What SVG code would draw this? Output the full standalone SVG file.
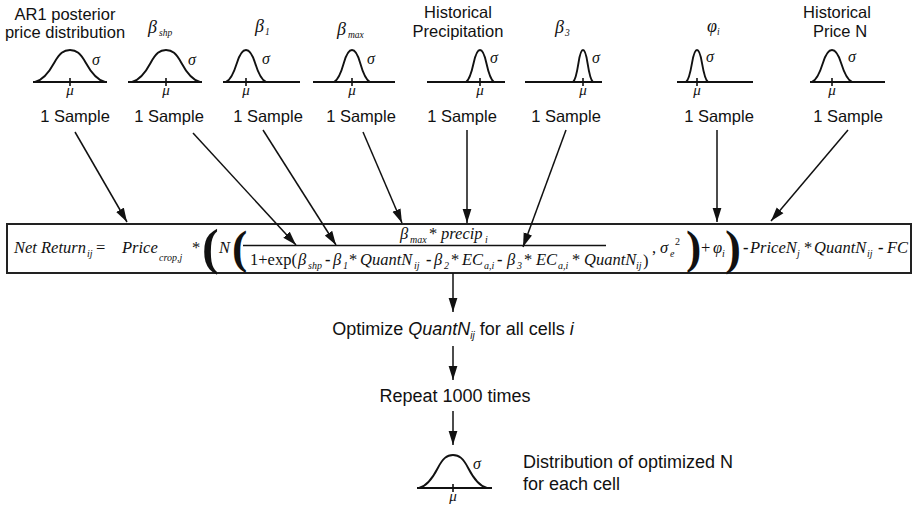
<svg xmlns="http://www.w3.org/2000/svg" xmlns:xlink="http://www.w3.org/1999/xlink" width="914" height="506" viewBox="0 0 914 506">
<style>
.lbl{font-family:"Liberation Sans",Arial,sans-serif;font-size:16.5px;fill:#111}
.gk{font-family:"Liberation Serif","Times New Roman",serif;font-style:italic;fill:#111}
.eq{font-family:"Liberation Serif","Times New Roman",serif;font-size:16.5px;font-style:italic;fill:#111}
.up{font-style:normal}
.sb{font-size:10px}
.bp{font-style:normal;font-weight:bold}
.curve{fill:none;stroke:#111;stroke-width:1.9}
.axis{stroke:#111;stroke-width:1.9}
.tick{stroke:#111;stroke-width:1.6}
.arrow{stroke:#111;stroke-width:1.5;fill:none;marker-end:url(#ah)}
.box{fill:#fff;stroke:#222;stroke-width:2}
</style>
<defs>
<marker id="ah" markerWidth="15" markerHeight="10" refX="14" refY="5" orient="auto" markerUnits="userSpaceOnUse">
<path d="M0,0.6 L14,5 L0,9.4 z" fill="#111"/>
</marker>
<path id="bell" class="curve" vector-effect="non-scaling-stroke" d="M-1,0 C-0.8,-0.05 -0.6,-0.3 -0.45,-0.6 C-0.3,-0.9 -0.18,-1 0,-1 C0.18,-1 0.3,-0.9 0.45,-0.6 C0.6,-0.3 0.8,-0.05 1,0"/>
</defs>
<rect width="914" height="506" fill="#fff"/>

<g id="node-ar1">
<text class="lbl" x="65" y="20" text-anchor="middle">AR1 posterior</text>
<text class="lbl" x="65" y="38" text-anchor="middle">price distribution</text>
<line class="axis" x1="33" y1="82" x2="107" y2="82"/>
<use xlink:href="#bell" transform="translate(70,82) scale(35,32)"/>
<line class="tick" x1="70" y1="78" x2="70" y2="86"/>
<text class="gk" x="70" y="95" font-size="15" text-anchor="middle">μ</text>
<text class="gk" x="92" y="65" font-size="16">σ</text>
<text class="lbl" x="75" y="122" text-anchor="middle">1 Sample</text>
</g>

<g id="node-bshp">
<text class="gk" x="148" y="33" font-size="18">β</text><text class="gk" x="159" y="36" font-size="9.5">shp</text>
<line class="axis" x1="128" y1="82" x2="202" y2="82"/>
<use xlink:href="#bell" transform="translate(166,82) scale(34,32)"/>
<line class="tick" x1="166" y1="78" x2="166" y2="86"/>
<text class="gk" x="166" y="95" font-size="15" text-anchor="middle">μ</text>
<text class="gk" x="188" y="65" font-size="16">σ</text>
<text class="lbl" x="169" y="122" text-anchor="middle">1 Sample</text>
</g>

<g id="node-b1">
<text class="gk" x="255" y="32" font-size="18">β</text><text class="gk" x="265" y="35" font-size="9.5">1</text>
<line class="axis" x1="223" y1="82" x2="300" y2="82"/>
<use xlink:href="#bell" transform="translate(246,82) scale(20,32)"/>
<line class="tick" x1="246" y1="78" x2="246" y2="86"/>
<text class="gk" x="246" y="95" font-size="15" text-anchor="middle">μ</text>
<text class="gk" x="262" y="64" font-size="16">σ</text>
<text class="lbl" x="268" y="122" text-anchor="middle">1 Sample</text>
</g>

<g id="node-bmax">
<text class="gk" x="337" y="35" font-size="18">β</text><text class="gk" x="348" y="38" font-size="9.5">max</text>
<line class="axis" x1="313" y1="82" x2="395" y2="82"/>
<use xlink:href="#bell" transform="translate(352,82) scale(18,32)"/>
<line class="tick" x1="352" y1="78" x2="352" y2="86"/>
<text class="gk" x="352" y="95" font-size="15" text-anchor="middle">μ</text>
<text class="gk" x="367" y="64" font-size="16">σ</text>
<text class="lbl" x="361" y="122" text-anchor="middle">1 Sample</text>
</g>

<g id="node-precip">
<text class="lbl" x="458" y="18" text-anchor="middle">Historical</text>
<text class="lbl" x="458" y="37" text-anchor="middle">Precipitation</text>
<line class="axis" x1="427" y1="82" x2="505" y2="82"/>
<use xlink:href="#bell" transform="translate(480,82) scale(14,32)"/>
<line class="tick" x1="480" y1="78" x2="480" y2="86"/>
<text class="gk" x="480" y="95" font-size="15" text-anchor="middle">μ</text>
<text class="gk" x="490" y="63" font-size="16">σ</text>
<text class="lbl" x="462" y="122" text-anchor="middle">1 Sample</text>
</g>

<g id="node-b3">
<text class="gk" x="555" y="33" font-size="18">β</text><text class="gk" x="565" y="36" font-size="9.5">3</text>
<line class="axis" x1="525" y1="82" x2="602" y2="82"/>
<use xlink:href="#bell" transform="translate(583,82) scale(10,32)"/>
<line class="tick" x1="583" y1="78" x2="583" y2="86"/>
<text class="gk" x="583" y="95" font-size="15" text-anchor="middle">μ</text>
<text class="gk" x="592" y="63" font-size="16">σ</text>
<text class="lbl" x="566" y="122" text-anchor="middle">1 Sample</text>
</g>

<g id="node-phi">
<text class="gk" x="707" y="32" font-size="18">φ</text><text class="gk" x="717" y="35" font-size="9.5">i</text>
<line class="axis" x1="677" y1="82" x2="753" y2="82"/>
<use xlink:href="#bell" transform="translate(697,82) scale(11,32)"/>
<line class="tick" x1="697" y1="78" x2="697" y2="86"/>
<text class="gk" x="697" y="95" font-size="15" text-anchor="middle">μ</text>
<text class="gk" x="706" y="62" font-size="16">σ</text>
<text class="lbl" x="719" y="122" text-anchor="middle">1 Sample</text>
</g>

<g id="node-priceN">
<text class="lbl" x="837" y="18" text-anchor="middle">Historical</text>
<text class="lbl" x="840" y="37" text-anchor="middle">Price N</text>
<line class="axis" x1="810" y1="82" x2="885" y2="82"/>
<use xlink:href="#bell" transform="translate(832,82) scale(20,32)"/>
<line class="tick" x1="832" y1="78" x2="832" y2="86"/>
<text class="gk" x="832" y="95" font-size="15" text-anchor="middle">μ</text>
<text class="gk" x="848" y="62" font-size="16">σ</text>
<text class="lbl" x="848" y="122" text-anchor="middle">1 Sample</text>
</g>

<g id="node-equation">
<rect class="box" x="7" y="224" width="904" height="49"/>
<line x1="243" y1="245.5" x2="606" y2="245.5" stroke="#111" stroke-width="1.6"/>
<text class="eq">
<tspan x="14" y="253">Net Return</tspan><tspan class="sb" x="87" y="257">ij</tspan>
<tspan class="up" x="96" y="253">=</tspan>
<tspan x="122" y="253">Price</tspan><tspan class="sb" x="159" y="261" font-size="9.5">crop,j</tspan>
<tspan class="up" x="192" y="253">*</tspan>
<tspan class="bp" x="202" y="264" font-size="50">(</tspan>
<tspan x="219" y="253">N</tspan>
<tspan class="bp" x="232" y="263" font-size="46">(</tspan>
<tspan x="400" y="239">β</tspan><tspan class="sb" x="410" y="243" font-size="9">max</tspan>
<tspan class="up" x="429" y="239">*</tspan>
<tspan x="441" y="239">precip</tspan><tspan class="sb" x="485" y="243">i</tspan>
<tspan class="up" x="250" y="265">1+exp(</tspan>
<tspan x="298" y="265">β</tspan><tspan class="sb" x="308" y="269" font-size="9">shp</tspan>
<tspan class="bp" x="325" y="265">-</tspan>
<tspan x="333" y="265">β</tspan><tspan class="sb" x="343" y="269">1</tspan>
<tspan class="up" x="349" y="265">*</tspan>
<tspan x="360" y="265">QuantN</tspan><tspan class="sb" x="414" y="269">ij</tspan>
<tspan class="bp" x="426" y="265">-</tspan>
<tspan x="434" y="265">β</tspan><tspan class="sb" x="444" y="269">2</tspan>
<tspan class="up" x="451" y="265">*</tspan>
<tspan x="462" y="265">EC</tspan><tspan class="sb" x="484" y="269">a,i</tspan>
<tspan class="bp" x="497" y="265">-</tspan>
<tspan x="507" y="265">β</tspan><tspan class="sb" x="517" y="269">3</tspan>
<tspan class="up" x="524" y="265">*</tspan>
<tspan x="536" y="265">EC</tspan><tspan class="sb" x="558" y="269">a,i</tspan>
<tspan class="up" x="572" y="265">*</tspan>
<tspan x="584" y="265">QuantN</tspan><tspan class="sb" x="636" y="269">ij</tspan>
<tspan class="up" x="643" y="266">)</tspan>
<tspan class="up" x="652" y="253">,</tspan>
<tspan x="660" y="253">σ</tspan><tspan class="sb" x="670" y="257">e</tspan><tspan class="sb up" x="675" y="245">2</tspan>
<tspan class="bp" x="686" y="263" font-size="46">)</tspan>
<tspan class="up" x="701" y="253">+</tspan>
<tspan x="713" y="253">φ</tspan><tspan class="sb" x="722" y="257">i</tspan>
<tspan class="bp" x="725" y="264" font-size="48">)</tspan>
<tspan class="bp" x="743" y="253">-</tspan>
<tspan x="750" y="253">PriceN</tspan><tspan class="sb" x="797" y="257">j</tspan>
<tspan class="up" x="804" y="253">*</tspan>
<tspan x="814" y="253">QuantN</tspan><tspan class="sb" x="867" y="257">ij</tspan>
<tspan class="bp" x="878" y="253">-</tspan>
<tspan x="887" y="253">FC</tspan>
</text>
</g>

<g id="node-optimize">
<text class="lbl" x="453" y="335" text-anchor="middle" style="font-size:18px">Optimize <tspan font-style="italic">QuantN</tspan><tspan font-style="italic" font-size="10" dy="4">ij</tspan><tspan dy="-4"> for all cells </tspan><tspan font-style="italic">i</tspan></text>
</g>

<g id="node-repeat">
<text class="lbl" x="455" y="402" text-anchor="middle" style="font-size:18px">Repeat 1000 times</text>
</g>

<g id="node-result">
<line class="axis" x1="417" y1="488" x2="492" y2="488"/>
<use xlink:href="#bell" transform="translate(453,488) scale(34,33)"/>
<line class="tick" x1="453" y1="484" x2="453" y2="492"/>
<text class="gk" x="453" y="501" font-size="15" text-anchor="middle">μ</text>
<text class="gk" x="473" y="469" font-size="16">σ</text>
<text class="lbl" x="523" y="468" style="font-size:18px">Distribution of optimized N</text>
<text class="lbl" x="523" y="490" style="font-size:18px">for each cell</text>
</g>

<g id="connectors">
<line class="arrow" x1="75" y1="132" x2="127" y2="222"/>
<line class="arrow" x1="193" y1="133" x2="296" y2="245"/>
<line class="arrow" x1="263" y1="130" x2="336" y2="245"/>
<line class="arrow" x1="363" y1="132" x2="402" y2="223"/>
<line class="arrow" x1="467" y1="130" x2="467" y2="223"/>
<line class="arrow" x1="566" y1="130" x2="523" y2="247"/>
<line class="arrow" x1="717" y1="130" x2="717" y2="222"/>
<line class="arrow" x1="848" y1="130" x2="771" y2="221"/>
<line class="arrow" x1="453" y1="273" x2="453" y2="312"/>
<line class="arrow" x1="453" y1="346" x2="453" y2="380"/>
<line class="arrow" x1="453" y1="411" x2="453" y2="445"/>
</g>
</svg>
